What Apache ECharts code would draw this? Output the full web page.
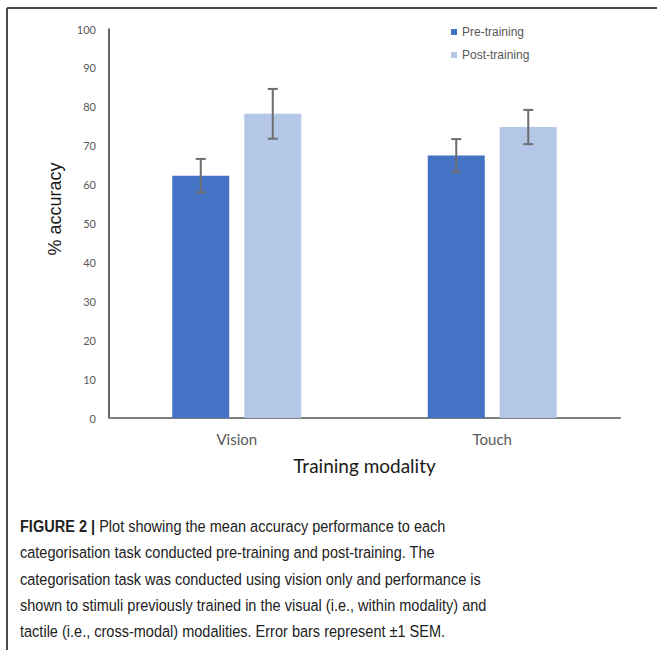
<!DOCTYPE html>
<html>
<head>
<meta charset="utf-8">
<script src="https://cdn.jsdelivr.net/npm/echarts@6/dist/echarts.min.js"></script>
<style>
  html, body { margin: 0; padding: 0; background: #fff; }
  #chart { width: 657px; height: 650px; }
</style>
</head>
<body>
<div id="chart"></div>
<script>
const categories = ['Vision', 'Touch']
const preTraining = [62.3, 67.5]
const postTraining = [78.2, 74.8]
const preSem = [4.3, 4.2]
const postSem = [6.4, 4.4]
const yTicks = [0, 10, 20, 30, 40, 50, 60, 70, 80, 90, 100]

const captionLines = [
  '{b|FIGURE 2 |} Plot showing the mean accuracy performance to each',
  'categorisation task conducted pre-training and post-training. The',
  'categorisation task was conducted using vision only and performance is',
  'shown to stimuli previously trained in the visual (i.e., within modality) and',
  'tactile (i.e., cross-modal) modalities. Error bars represent \u00b11 SEM.'
]

const BAR_W = 57
const BAR_GAP = 15

// error bar drawn on top of a bar, shifted left/right within the category
function errorBar(values, sems, side) {
  return {
    type: 'custom',
    silent: true,
    z: 10,
    data: values.map((v, i) => [i, v - sems[i], v + sems[i]]),
    renderItem: function (params, api) {
      const lo = api.coord([api.value(0), api.value(1)])
      const hi = api.coord([api.value(0), api.value(2)])
      const x = lo[0] + side * (BAR_W + BAR_GAP) / 2
      const cap = 5
      const style = { stroke: '#6d6d6d', lineWidth: 2 }
      return {
        type: 'group',
        children: [
          { type: 'line', shape: { x1: x, y1: lo[1], x2: x, y2: hi[1] }, style: style },
          { type: 'line', shape: { x1: x - cap, y1: lo[1], x2: x + cap, y2: lo[1] }, style: style },
          { type: 'line', shape: { x1: x - cap, y1: hi[1], x2: x + cap, y2: hi[1] }, style: style }
        ]
      }
    }
  }
}

let mychart = echarts.init(document.getElementById('chart'), null, { renderer: 'svg' })
let option = {
  animation: false,
  backgroundColor: '#fff',
  legend: {
    data: ['Pre-training', 'Post-training'],
    orient: 'vertical',
    left: 446,
    top: 21,
    itemWidth: 6,
    itemHeight: 6,
    itemGap: 11,
    icon: 'rect',
    textStyle: { color: '#595959', fontSize: 12, fontFamily: 'Liberation Sans, Arial' }
  },
  grid: {
    left: 109,
    right: 37,
    top: 29,
    bottom: 232
  },
  xAxis: {
    type: 'category',
    data: categories,
    name: 'Training modality',
    nameLocation: 'middle',
    nameGap: 38,
    nameTextStyle: { color: '#1a1a1a', fontSize: 19, fontFamily: 'Lato' },
    axisLine: { lineStyle: { color: '#7f7f7f', width: 2 } },
    axisTick: { show: false },
    axisLabel: { color: '#595959', fontSize: 15, margin: 13, fontFamily: 'Lato' }
  },
  yAxis: {
    type: 'value',
    min: 0,
    max: 100,
    interval: 10,
    splitLine: { show: false },
    axisLine: { show: true, lineStyle: { color: '#333', width: 1.5 } },
    axisTick: { show: false },
    axisLabel: {
      color: '#595959',
      fontSize: 11,
      margin: 13,
      fontFamily: 'Lato',
      formatter: function (v) { return yTicks.indexOf(v) >= 0 ? String(v) : '' }
    }
  },
  series: [
    {
      name: 'Pre-training',
      type: 'bar',
      data: preTraining,
      barWidth: BAR_W,
      barGap: (BAR_GAP / BAR_W * 100) + '%',
      itemStyle: { color: '#4472c4' }
    },
    {
      name: 'Post-training',
      type: 'bar',
      data: postTraining,
      barWidth: BAR_W,
      itemStyle: { color: '#b4c7e7' }
    },
    errorBar(preTraining, preSem, -1),
    errorBar(postTraining, postSem, 1)
  ],
  graphic: [
    // frame: top and left rules of the figure box
    { type: 'line', shape: { x1: 7, y1: 8, x2: 657, y2: 8 }, style: { stroke: '#4a4a4a', lineWidth: 2 } },
    { type: 'line', shape: { x1: 7, y1: 8, x2: 7, y2: 650 }, style: { stroke: '#4a4a4a', lineWidth: 2 } },
    {
      type: 'text',
      x: 55,
      y: 209,
      rotation: Math.PI / 2,
      style: {
        text: '% accuracy',
        fill: '#1a1a1a',
        font: '18px "Liberation Sans", Arial',
        align: 'center',
        verticalAlign: 'middle'
      }
    },
    {
      // caption in a condensed face: squeeze the regular sans horizontally
      type: 'text',
      x: 20,
      y: 513,
      scaleX: 0.855,
      style: {
        text: captionLines.join('\n'),
        fill: '#222',
        fontSize: 17,
        fontFamily: '"Liberation Sans", Arial',
        lineHeight: 26.3,
        rich: {
          b: { fontWeight: 'bold', fontSize: 17, lineHeight: 26.3, fill: '#222',
            fontFamily: '"Liberation Sans", Arial' }
        }
      }
    }
  ]
}
mychart.setOption(option)
</script>
</body>
</html>
